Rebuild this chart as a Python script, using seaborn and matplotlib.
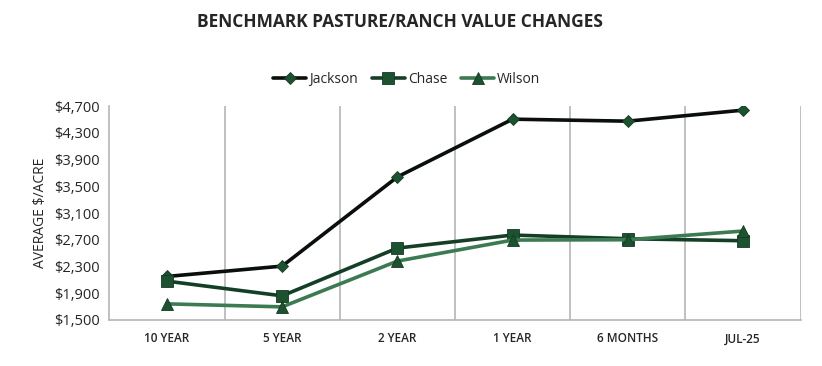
import pandas as pd
import matplotlib.pyplot as plt
import seaborn as sns
from matplotlib.ticker import FuncFormatter

periods = ['10 YEAR', '5 YEAR', '2 YEAR', '1 YEAR', '6 MONTHS', 'JUL-25']
jackson = [2150, 2305, 3640, 4505, 4475, 4640]
chase = [2080, 1860, 2575, 2770, 2715, 2685]
wilson = [1740, 1695, 2380, 2695, 2700, 2830]

series = ['Jackson', 'Chase', 'Wilson']
line_colors = ['#0a0f0b', '#143f26', '#3c7a52']
marker_styles = ['D', 's', '^']
marker_sizes = [6, 8, 8]

df = pd.DataFrame({'period': periods * 3,
                   'value': jackson + chase + wilson,
                   'name': [s for s in series for _ in periods]})

sns.set_style('white')
plt.rcParams['font.family'] = ['Open Sans', 'DejaVu Sans']

fig = plt.figure(figsize=(8.22, 3.66), dpi=100)
ax = fig.add_axes([0.133, 0.126, 0.841, 0.584])

for name, col, mk, ms in zip(series, line_colors, marker_styles, marker_sizes):
    sub = df[df['name'] == name]
    sns.lineplot(data=sub, x='period', y='value', ax=ax, color=col, lw=2.6,
                 marker=mk, markersize=ms, markerfacecolor='#1d5230',
                 markeredgecolor='#143a22', markeredgewidth=0.6, label=name,
                 sort=False)

ax.set_xlim(-0.5, 5.5)
ax.set_ylim(1500, 4700)
ax.set_yticks(range(1500, 4701, 400))
ax.yaxis.set_major_formatter(FuncFormatter(lambda v, p: f'${v:,.0f}'))
for xb in [0.5, 1.5, 2.5, 3.5, 4.5, 5.5]:
    ax.axvline(xb, color='#b5b5b5', lw=1.2, zorder=0)

for s in ['top', 'right']:
    ax.spines[s].set_visible(False)
for s in ['left', 'bottom']:
    ax.spines[s].set_color('#b5b5b5')
    ax.spines[s].set_linewidth(1.2)

ax.tick_params(axis='y', length=4, color='#b5b5b5', labelsize=10.5, pad=3)
ax.tick_params(axis='x', length=0, labelsize=8.5, pad=9)
for t in ax.get_xticklabels():
    t.set_fontweight('semibold')
ax.set_xlabel('')
ax.set_ylabel('AVERAGE $/ACRE', fontsize=10)

ax.legend(loc='lower center', bbox_to_anchor=(0.43, 1.03), ncol=3, frameon=False,
          fontsize=10, handlelength=2.4, handletextpad=0.2, columnspacing=1.0)

fig.text(0.487, 0.925, 'BENCHMARK PASTURE/RANCH VALUE CHANGES', ha='center',
         fontsize=12.5, fontweight='bold')

fig.savefig('out.png', dpi=100)
